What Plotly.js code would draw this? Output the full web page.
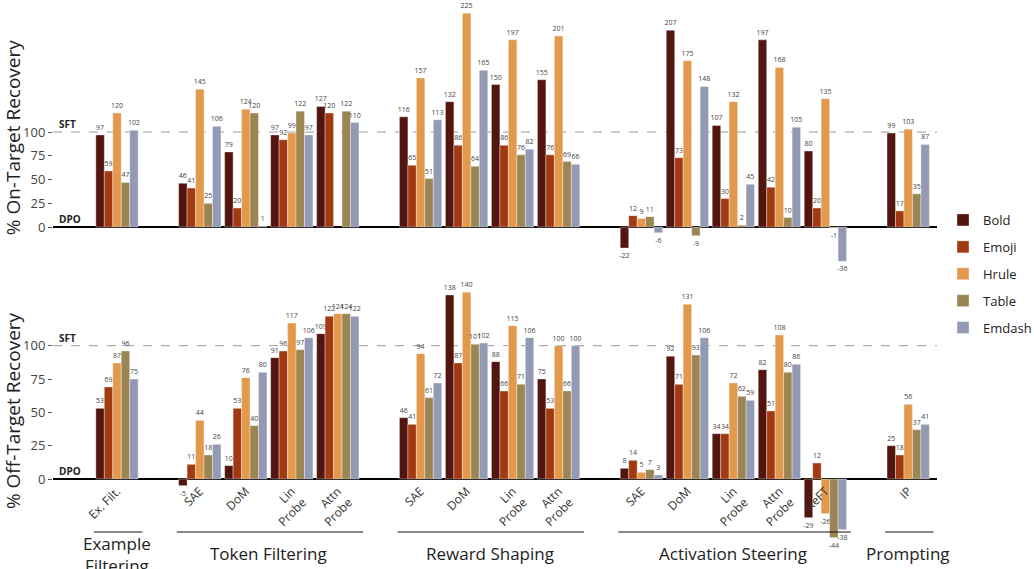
<!DOCTYPE html>
<html>
<head>
<meta charset="utf-8">
<script src="https://cdn.plot.ly/plotly-3.0.1.min.js"></script>
<style>html,body{margin:0;padding:0;background:#fff;}#chart{width:1034px;height:569px;}</style>
</head>
<body>
<div id="chart"></div>
<script>
// ---- data ----
const categories = ['Ex. Filt.','SAE','DoM','Lin<br>Probe','Attn<br>Probe','SAE','DoM','Lin<br>Probe','Attn<br>Probe','SAE','DoM','Lin<br>Probe','Attn<br>Probe','ReFT','IP'];
const groupOf = [0,1,1,1,1,2,2,2,2,3,3,3,3,3,4];
const groupNames = ['Example<br>Filtering','Token Filtering','Reward Shaping','Activation Steering','Prompting'];
const seriesNames = ['Bold','Emoji','Hrule','Table','Emdash'];

const onBold   = [97,46,79,97,127,116,132,150,155,-22,207,107,197,80,99];
const onEmoji  = [59,41,20,92,120,65,86,86,76,12,73,30,42,20,17];
const onHrule  = [120,145,124,99,null,157,225,197,201,9,175,132,168,135,103];
const onTable  = [47,25,120,122,122,51,64,76,69,11,-9,2,10,-1,35];
const onEmdash = [102,106,1,97,110,113,165,82,66,-6,148,45,105,-36,87];

const offBold   = [53,-5,10,91,109,46,138,88,75,8,92,34,82,-29,25];
const offEmoji  = [69,11,53,96,122,41,87,66,53,14,71,34,51,12,18];
const offHrule  = [87,44,76,117,124,94,140,115,100,5,131,72,108,-26,56];
const offTable  = [96,18,40,97,124,61,101,71,66,7,93,62,80,-44,37];
const offEmdash = [75,26,80,106,122,72,102,106,100,3,106,59,86,-38,41];

const yTicks = [0,25,50,75,100];

// ---- styling / layout ----
const colors = ['#52150f','#a13a13','#e2994c','#9a8553','#959ab4'];
const FONT = 'Open Sans, Lato, sans-serif';
const W = 1034, H = 569;
const py = p => 1 - p / H;
const xs = categories.map((c, i) => i + 0.8 * groupOf[i]);

const onData = [onBold, onEmoji, onHrule, onTable, onEmdash];
const offData = [offBold, offEmoji, offHrule, offTable, offEmdash];

const traces = [];
function addTraces(data, xa, ya, legend) {
  data.forEach((vals, k) => {
    traces.push({
      type: 'bar', x: xs, y: vals, name: seriesNames[k],
      xaxis: xa, yaxis: ya,
      legendgroup: seriesNames[k], showlegend: legend,
      marker: {color: colors[k], line: {color: 'rgba(255,255,255,0.7)', width: 0.5}},
      text: vals.map(v => v == null ? '' : String(v)),
      textposition: 'outside', constraintext: 'none', cliponaxis: false,
      textfont: {size: 7, color: '#444', family: FONT},
      hoverinfo: 'x+y+name'
    });
  });
}
addTraces(onData, 'x', 'y', true);
addTraces(offData, 'x2', 'y2', false);

const xRange = [(53 - 117) / 46, (937 - 117) / 46];
const xDom = [53 / W, 937 / W];

const shapes = [];
['y', 'y2'].forEach(yr => {
  shapes.push({type: 'line', xref: 'paper', x0: xDom[0], x1: xDom[1], yref: yr, y0: 100, y1: 100,
    line: {color: '#999', width: 1, dash: 'dash'}, layer: 'below'});
});
// group underlines
for (let g = 0; g < groupNames.length; g++) {
  const idx = xs.filter((x, i) => groupOf[i] === g);
  const x0 = Math.min(...idx) - 0.5, x1 = Math.max(...idx) + 0.55;
  shapes.push({type: 'line', xref: 'x2', x0: x0, x1: Math.min(x1, xRange[1]), yref: 'paper', y0: py(532), y1: py(532),
    line: {color: '#111', width: 1}});
}

const annotations = [];
groupNames.forEach((g, gi) => {
  const idx = xs.filter((x, i) => groupOf[i] === gi);
  const c = (Math.min(...idx) + Math.max(...idx)) / 2;
  annotations.push({xref: 'x2', yref: 'paper', x: c, y: gi === 0 ? py(530) : py(553),
    yanchor: gi === 0 ? 'top' : 'middle', xanchor: 'center', showarrow: false, text: g,
    font: {size: 17, color: '#222', family: FONT}});
});
[['y', 'SFT', 100], ['y', 'DPO', 0], ['y2', 'SFT', 100], ['y2', 'DPO', 0]].forEach(a => {
  annotations.push({xref: 'paper', x: 57 / W, xanchor: 'left', yref: a[0], y: a[2], yanchor: 'bottom',
    showarrow: false, text: '<b>' + a[1] + '</b>', font: {size: 10, color: '#222', family: FONT}, yshift: -1});
});

const yBase = {
  tickvals: yTicks, ticks: 'outside', ticklen: 4, tickcolor: '#555',
  tickfont: {size: 13, color: '#444', family: FONT},
  showgrid: false, zeroline: true, zerolinecolor: '#000', zerolinewidth: 2,
  showline: false, automargin: false, fixedrange: true
};

const layout = {
  width: W, height: H,
  margin: {l: 0, r: 0, t: 0, b: 0, autoexpand: false},
  paper_bgcolor: '#fff', plot_bgcolor: '#fff',
  font: {family: FONT, color: '#222'},
  barmode: 'group', bargap: 0.08, bargroupgap: 0,
  showlegend: true,
  legend: {x: 0.912, y: py(205), xanchor: 'left', yanchor: 'top', tracegroupgap: 7,
    font: {size: 13, color: '#222', family: FONT}, bgcolor: 'rgba(0,0,0,0)'},
  xaxis: {domain: xDom, range: xRange, anchor: 'y', showticklabels: false, ticks: '',
    showgrid: false, zeroline: false, showline: false, fixedrange: true},
  xaxis2: {domain: xDom, range: xRange, anchor: 'free', position: py(481), tickvals: xs, ticktext: categories,
    tickangle: -45, tickfont: {size: 12, color: '#333', family: FONT}, ticks: '',
    showgrid: false, zeroline: false, showline: false, automargin: false, fixedrange: true},
  yaxis: Object.assign({}, yBase, {domain: [py(267), py(8.5)], range: [-42, 230], anchor: 'x',
    title: {text: '% On-Target Recovery', font: {size: 19, color: '#222', family: FONT}, standoff: 4}}),
  yaxis2: Object.assign({}, yBase, {domain: [py(543), py(279)], range: [-48, 150], anchor: 'x2',
    title: {text: '% Off-Target Recovery', font: {size: 19, color: '#222', family: FONT}, standoff: 4}}),
  shapes: shapes,
  annotations: annotations
};

Plotly.newPlot('chart', traces, layout, {displayModeBar: false, staticPlot: true});
</script>
</body>
</html>
